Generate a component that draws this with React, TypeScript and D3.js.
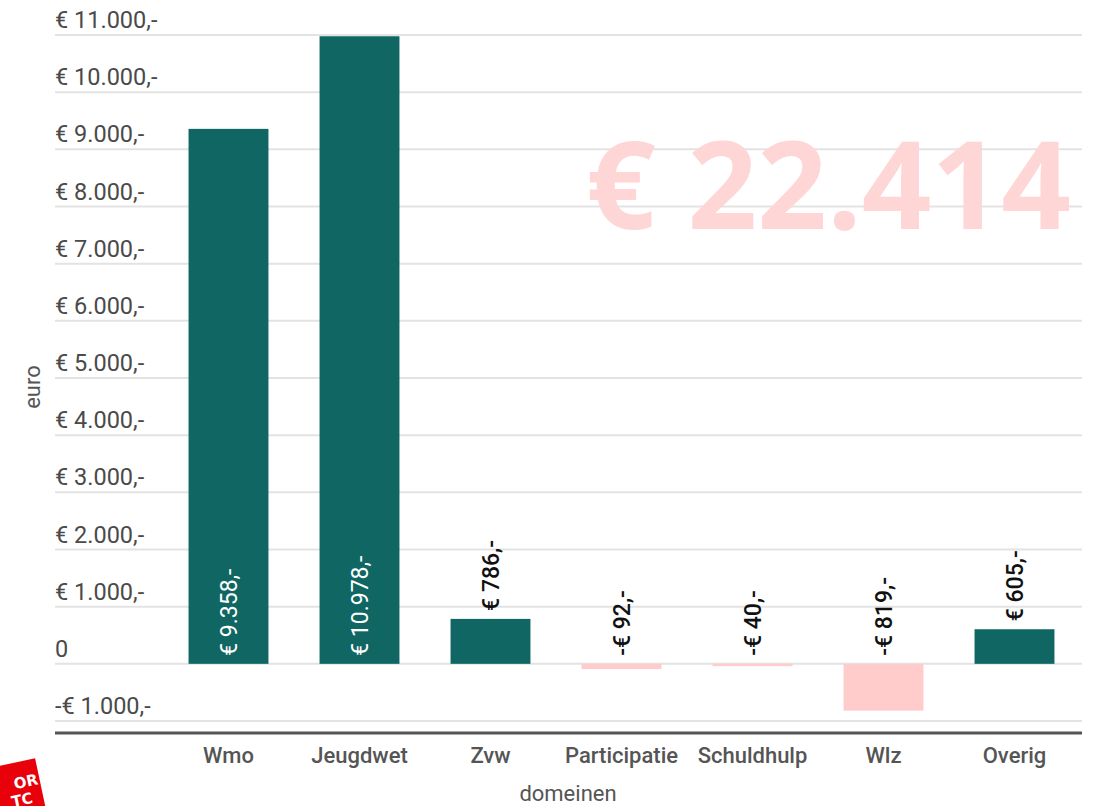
import React from "react";
import * as d3 from "d3";

const categories = ["Wmo", "Jeugdwet", "Zvw", "Participatie", "Schuldhulp", "Wlz", "Overig"];
const values = [9358, 10978, 786, -92, -40, -819, 605];
const yTicks = [-1000, 0, 1000, 2000, 3000, 4000, 5000, 6000, 7000, 8000, 9000, 10000, 11000];
const insideLabel = [true, true, false, false, false, false, false];
const totalText = "€ 22.414";
const xTitle = "domeinen";
const yTitle = "euro";

const W = 1104;
const H = 806;

const fmtNum = (v: number) => {
  const abs = Math.abs(v);
  const s = abs.toString().replace(/\B(?=(\d{3})+(?!\d))/g, ".");
  return s;
};
const fmtTick = (v: number) => (v === 0 ? "0" : (v < 0 ? "-" : "") + "€ " + fmtNum(v) + ",-");
const fmtLabel = (v: number) => (v < 0 ? "-" : "") + "€ " + fmtNum(v) + ",-";

export default function App() {
  const x = d3.scaleBand<string>().domain(categories).range([163, 1080]).paddingInner(0.39).paddingOuter(0.195);
  const y = d3.scaleLinear().domain([-1000, 11000]).range([721, 35]);
  const gridX0 = 55;
  const gridX1 = 1082;
  const font = "Roboto, 'Noto Sans', sans-serif";

  return (
    <svg width={W} height={H} style={{ position: "absolute", left: 0, top: 0, background: "#fff" }} fontFamily={font}>
      <rect x={0} y={0} width={W} height={H} fill="#fff" />
      {yTicks.map((t) => (
        <g key={t}>
          <line x1={gridX0} x2={gridX1} y1={y(t)} y2={y(t)} stroke="#e3e3e3" strokeWidth={2} />
          <text x={gridX0} y={y(t) - 7} fontSize={23.5} fill="#4a4a4a">
            {fmtTick(t)}
          </text>
        </g>
      ))}
      <text x={586} y={229} fontFamily="'Open Sans', sans-serif" fontWeight={700} fontSize={122} fill="#ffd6d6">
        {totalText}
      </text>
      {categories.map((c, i) => {
        const v = values[i];
        const y0 = y(0);
        const y1 = y(v);
        const top = Math.min(y0, y1);
        const h = Math.abs(y1 - y0);
        const cx = (x(c) as number) + x.bandwidth() / 2;
        const inside = insideLabel[i];
        const labelY = inside ? y0 - 8 : (v > 0 ? y1 : y0) - 8;
        return (
          <g key={c}>
            <rect x={x(c)} y={top} width={x.bandwidth()} height={Math.max(h, 1)} fill={v >= 0 ? "#0f6663" : "#ffcbcb"} />
            <text
              transform={`translate(${cx},${labelY}) rotate(-90)`}
              dy="0.36em"
              fontSize={23}
              fontWeight={inside ? 400 : 500}
              fill={inside ? "#ffffff" : "#111111"}
            >
              {fmtLabel(v)}
            </text>
            <text x={cx} y={763} textAnchor="middle" fontSize={22} fontWeight={500} fill="#555555">
              {c}
            </text>
          </g>
        );
      })}
      <line x1={gridX0} x2={gridX1} y1={733} y2={733} stroke="#555555" strokeWidth={3} />
      <text x={568} y={801} textAnchor="middle" fontSize={22} fill="#555555">
        {xTitle}
      </text>
      <text transform={`translate(40,${y(5000) + 9}) rotate(-90)`} textAnchor="middle" fontSize={22} fill="#555555">
        {yTitle}
      </text>
      <g transform="translate(0,776) rotate(-12)">
        <rect x={-40} y={-10} width={78} height={70} fill="#e8000b" />
        <text x={12} y={16} fontSize={15} fontWeight={900} fill="#fff" fontFamily="'DejaVu Sans', sans-serif">OR</text>
        <text x={6} y={33} fontSize={15} fontWeight={900} fill="#fff" fontFamily="'DejaVu Sans', sans-serif">TC</text>
      </g>
    </svg>
  );
}
